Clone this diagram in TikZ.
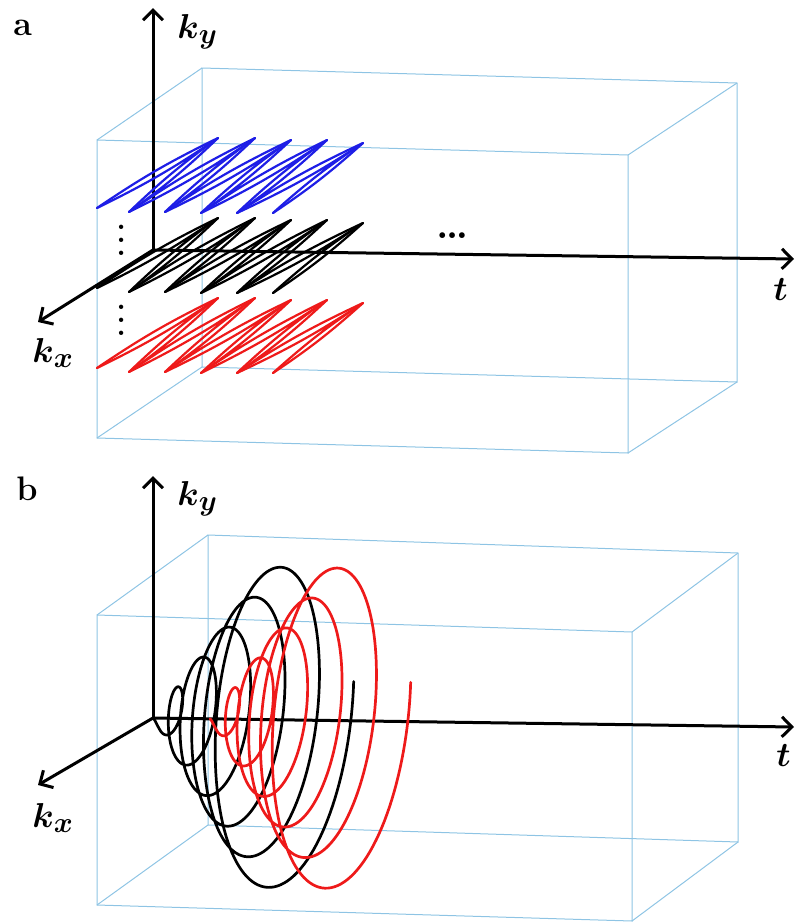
\documentclass[tikz,border=0pt]{standalone}
\definecolor{BoxBlue}{HTML}{8EC4E4}
\definecolor{TrajBlue}{HTML}{1E1EE6}
\definecolor{TrajRed}{HTML}{EE1A1A}
\usepackage{amsmath,amssymb}
\DeclareMathSizes{19}{19}{14}{11}
\usepackage{tikz}
\usetikzlibrary{arrows.meta}

\begin{document}
\begin{tikzpicture}[x=0.5pt,y=-0.5pt,
      frame/.style={draw=BoxBlue,line width=0.5pt},
      axis/.style={-{Straight Barb[length=5pt,width=10pt]},line width=1.5pt},
      traj/.style={line width=1.1pt,line join=round,line cap=round},
      spir/.style={line width=1.35pt,line join=round,line cap=round},
      lbl/.style={anchor=base west,inner sep=0pt,font=\fontsize{19}{21}\selectfont},
      tag/.style={anchor=base west,inner sep=0pt,font=\fontsize{17}{19}\selectfont\bfseries},
      vdts/.style={anchor=south,inner sep=0pt,scale=1.6,font=\fontsize{14}{16}\selectfont},
      hdts/.style={inner sep=0pt,font=\fontsize{20}{22}\selectfont\bfseries},
      declare function={rr(\u)=4.775*\u+9.5*min(\u,1);}]
    \useasboundingbox (0,0) rectangle (796,923);

    % panel a
    \draw[frame] (97,140) -- (628,155) -- (628,453) -- (97,438) -- cycle;
    \draw[frame] (202,68) -- (737,83) -- (737,382) -- (202,367) -- cycle;
    \draw[frame] (97,140) -- (202,68) (628,155) -- (737,83)
                 (628,453) -- (737,382) (97,438) -- (202,367);
    \coordinate (oa)  at (153,250);
    \coordinate (kya) at (153,8);
    \coordinate (kxa) at (38,322);
    \coordinate (ta)  at (794,259);
    \draw[axis] (oa) -- (kya);
    \draw[axis] (oa) -- (kxa);
    \draw[axis] (oa) -- (ta);
    \foreach \dy/\col in {0/TrajBlue,80/black,160/TrajRed}
      \foreach \bd in {left,right}
        \draw[traj,\col,shift={(0,\dy)}] (97,208) to[bend \bd=4] (218,138)
          to[bend \bd=4] (129,212) to[bend \bd=4] (255,138)
          to[bend \bd=4] (165,212) to[bend \bd=4] (291,140)
          to[bend \bd=4] (201,213) to[bend \bd=4] (327,140)
          to[bend \bd=4] (237,213) to[bend \bd=4] (363,143)
          to[bend \bd=4] (273,213);
    \node[vdts] (dota1) at (122,256) {$\vdots$};
    \node[vdts] (dota2) at (122,336) {$\vdots$};
    \node[hdts] (dota3) at (453,236) {\dots};
    \node[tag] (taga) at (13,35) {a};
    \node[lbl] (lkya) at (177,38)  {$\boldsymbol{k}_{\boldsymbol{y}}$};
    \node[lbl] (lkxa) at (32,362)  {$\boldsymbol{k}_{\boldsymbol{x}}$};
    \node[lbl] (lta)  at (773,300) {$\boldsymbol{t}$};

    % panel b
    \draw[frame] (97,615) -- (632,632) -- (632,921) -- (97,905) -- cycle;
    \draw[frame] (208,535) -- (738,553) -- (738,842) -- (208,825) -- cycle;
    \draw[frame] (97,615) -- (208,535) (632,632) -- (738,553)
                 (632,921) -- (738,842) (97,905) -- (208,825);
    \coordinate (ob)  at (153,718);
    \coordinate (kyb) at (153,476);
    \coordinate (kxb) at (38,785);
    \coordinate (tb)  at (794,727);
    \draw[axis] (ob) -- (kyb);
    \draw[axis] (ob) -- (kxb);
    \draw[axis] (ob) -- (tb);
    \foreach \dx/\col in {0/black,57/TrajRed}
      \draw[spir,\col] plot[domain=0:34.56,samples=700]
        ({153+\dx+0.77*rr(\x)-0.38*rr(\x)*cos(\x r)},
         {718+0.014*\dx+0.011*rr(\x)+0.22*rr(\x)*cos(\x r)+0.985*rr(\x)*sin(\x r)});
    \node[tag] (tagb) at (16,500) {b};
    \node[lbl] (lkyb) at (177,505) {$\boldsymbol{k}_{\boldsymbol{y}}$};
    \node[lbl] (lkxb) at (32,827)  {$\boldsymbol{k}_{\boldsymbol{x}}$};
    \node[lbl] (ltb)  at (776,766) {$\boldsymbol{t}$};
\end{tikzpicture}
\end{document}
